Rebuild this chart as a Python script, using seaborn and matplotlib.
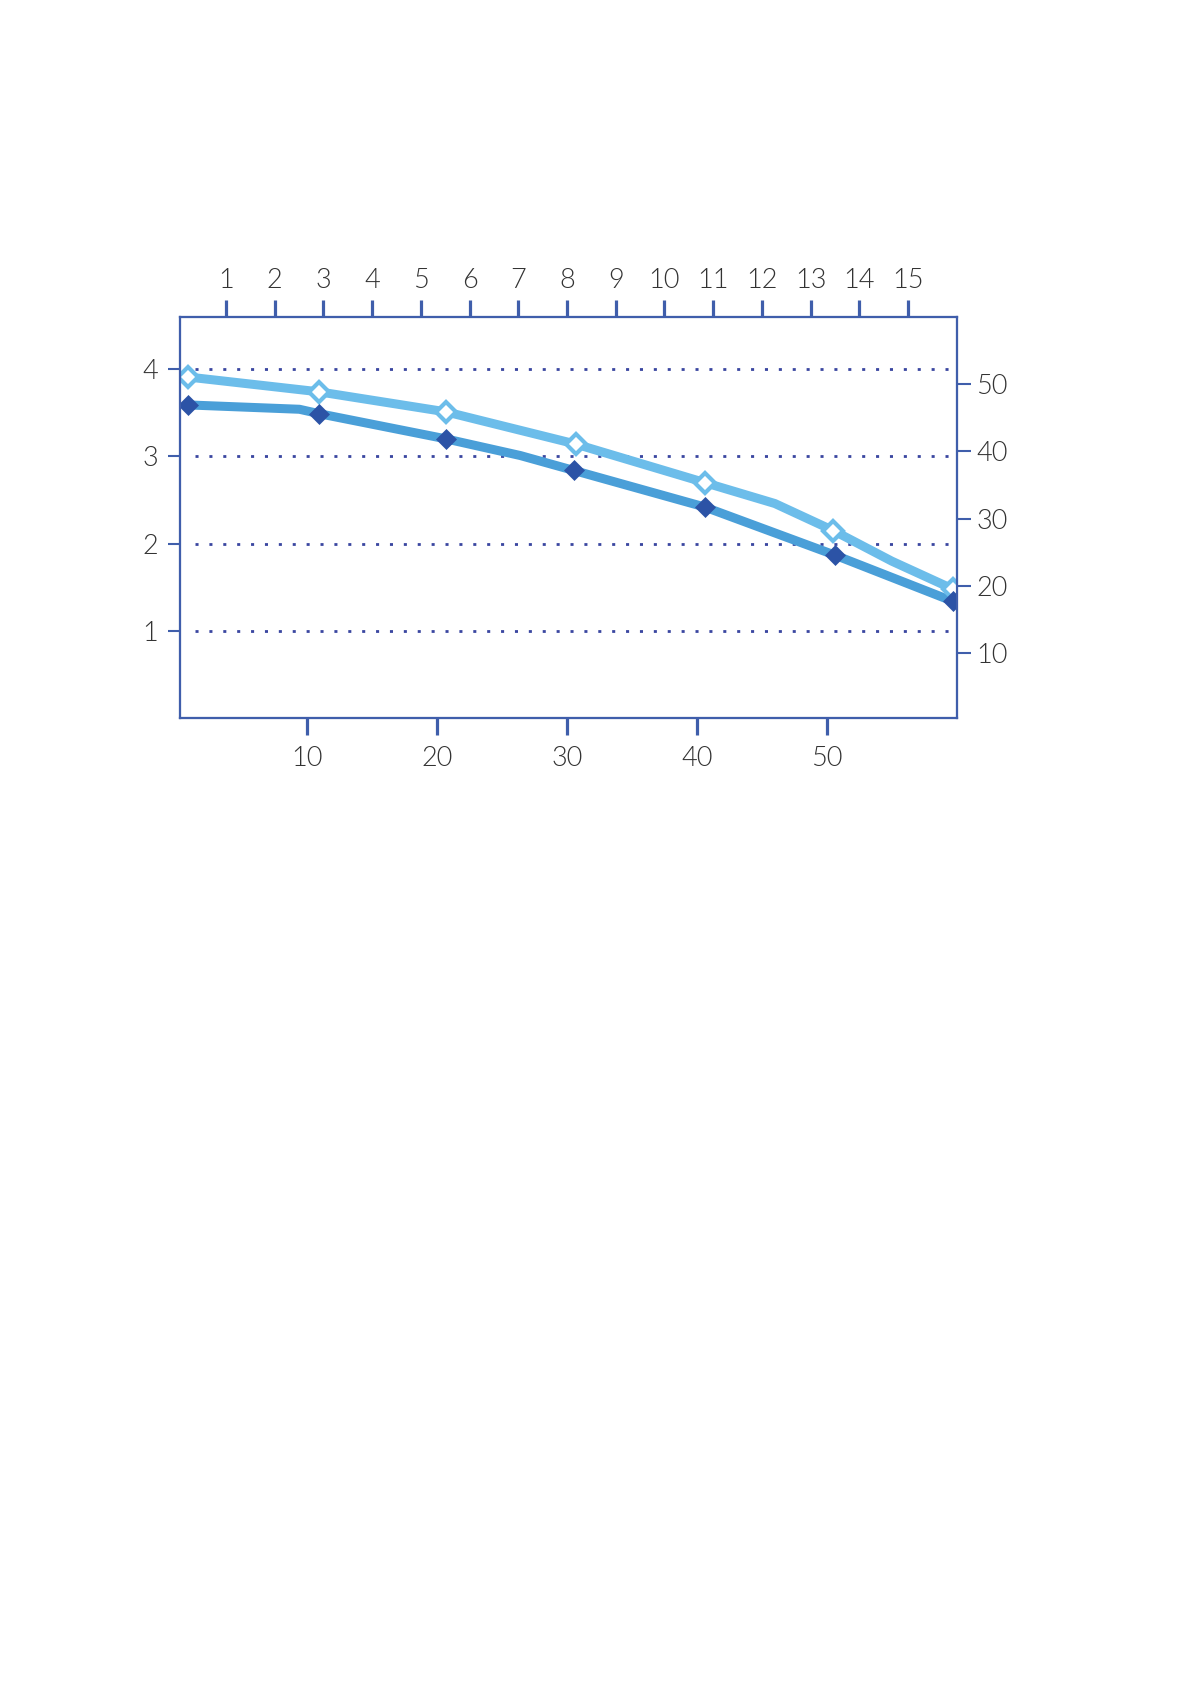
import matplotlib
matplotlib.use("Agg")
import matplotlib.pyplot as plt
import seaborn as sns
import pandas as pd

# ---- data ----
dark_x = [0.8, 10.9, 20.7, 30.5, 40.6, 50.6, 59.7]
dark_y = [3.59, 3.49, 3.20, 2.84, 2.42, 1.87, 1.34]
light_x = [0.8, 10.9, 20.7, 30.7, 40.6, 50.5, 59.7]
light_y = [3.91, 3.74, 3.51, 3.14, 2.70, 2.15, 1.48]

# line paths (marker points plus visible intermediate bends)
dark_path_x = [0.8, 9.4, 10.9, 20.7, 26.4, 30.5, 40.6, 50.6, 59.7]
dark_path_y = [3.59, 3.54, 3.49, 3.20, 3.01, 2.84, 2.42, 1.87, 1.34]
light_path_x = [0.8, 10.9, 20.7, 30.7, 40.6, 46.0, 50.5, 55.0, 59.7]
light_path_y = [3.91, 3.74, 3.51, 3.14, 2.70, 2.46, 2.15, 1.80, 1.48]

bottom_ticks = [10, 20, 30, 40, 50]
left_ticks = [1, 2, 3, 4]
right_ticks = [10, 20, 30, 40, 50]
top_ticks = list(range(1, 16))

# ---- style ----
sns.set_theme(style="white")
plt.rcParams['font.family'] = ['Lato', 'DejaVu Sans']

AXC = "#3f5eab"
GRIDC = "#3a46a0"
TXT = "#333333"
DARK_LINE = "#4a9fd8"
DARK_MK = "#2c53a6"
LIGHT_LINE = "#6cbdea"
FW = 300
FS = 19.5

fig = plt.figure(figsize=(11.91, 16.84), dpi=100)
ax = fig.add_axes([0.1511, 0.5735, 0.6522, 0.2384])

dark_path = pd.DataFrame({"x": dark_path_x, "y": dark_path_y})
light_path = pd.DataFrame({"x": light_path_x, "y": light_path_y})
dark_pts = pd.DataFrame({"x": dark_x, "y": dark_y})
light_pts = pd.DataFrame({"x": light_x, "y": light_y})

sns.lineplot(data=light_path, x="x", y="y", ax=ax, color=LIGHT_LINE, lw=6.5,
             sort=False, zorder=3, solid_joinstyle='round', solid_capstyle='round')
sns.lineplot(data=dark_path, x="x", y="y", ax=ax, color=DARK_LINE, lw=6.5,
             sort=False, zorder=4, solid_joinstyle='round', solid_capstyle='round')
sns.lineplot(data=light_pts, x="x", y="y", ax=ax, lw=0, marker="D", markersize=10.5,
             markerfacecolor="white", markeredgecolor=LIGHT_LINE, markeredgewidth=3,
             zorder=5)
sns.lineplot(data=dark_pts, x="x", y="y", ax=ax, lw=0, marker="D", markersize=10,
             markerfacecolor=DARK_MK, markeredgecolor=DARK_MK, markeredgewidth=0.5,
             zorder=6)

ax.set_xlim(0.2, 60)
ax.set_ylim(0, 4.6)

# dotted grid lines
for v in left_ticks:
    ax.axhline(v, xmin=0.02, xmax=1, color=GRIDC, lw=2, ls=(0, (1.1, 3.9)), zorder=1)

ax.set_xticks(bottom_ticks)
ax.set_yticks(left_ticks)
ax.set_xlabel("")
ax.set_ylabel("")

for s in ax.spines.values():
    s.set_color(AXC)
    s.set_linewidth(1.5)
    s.set_visible(True)

ax.tick_params(axis='x', direction='out', length=12, width=2.3, color=AXC, pad=8,
               labelsize=FS, labelcolor=TXT, bottom=True)
ax.tick_params(axis='y', direction='out', length=9, width=1.5, color=AXC, pad=7,
               labelsize=FS, labelcolor=TXT, left=True)

# right axis
axr = ax.twinx()
axr.set_ylim(0.3, 60)
axr.set_yticks(right_ticks)
axr.tick_params(axis='y', direction='out', length=10, width=1.5, color=AXC, pad=4,
                labelsize=FS, labelcolor=TXT, right=True)
# top axis
axt = ax.twiny()
axt.set_xlim(0.2 / 3.75, 60 / 3.75)
axt.set_xticks(top_ticks)
axt.tick_params(axis='x', direction='out', length=12, width=2.3, color=AXC, pad=5,
                labelsize=FS, labelcolor=TXT, top=True)
for a in (axr, axt):
    for s in a.spines.values():
        s.set_color(AXC)
        s.set_linewidth(1.5)
    a.grid(False)

for a in (ax, axr, axt):
    for lab in a.get_xticklabels() + a.get_yticklabels():
        lab.set_fontweight(FW)

fig.savefig("out.png", dpi=100, facecolor="white")
